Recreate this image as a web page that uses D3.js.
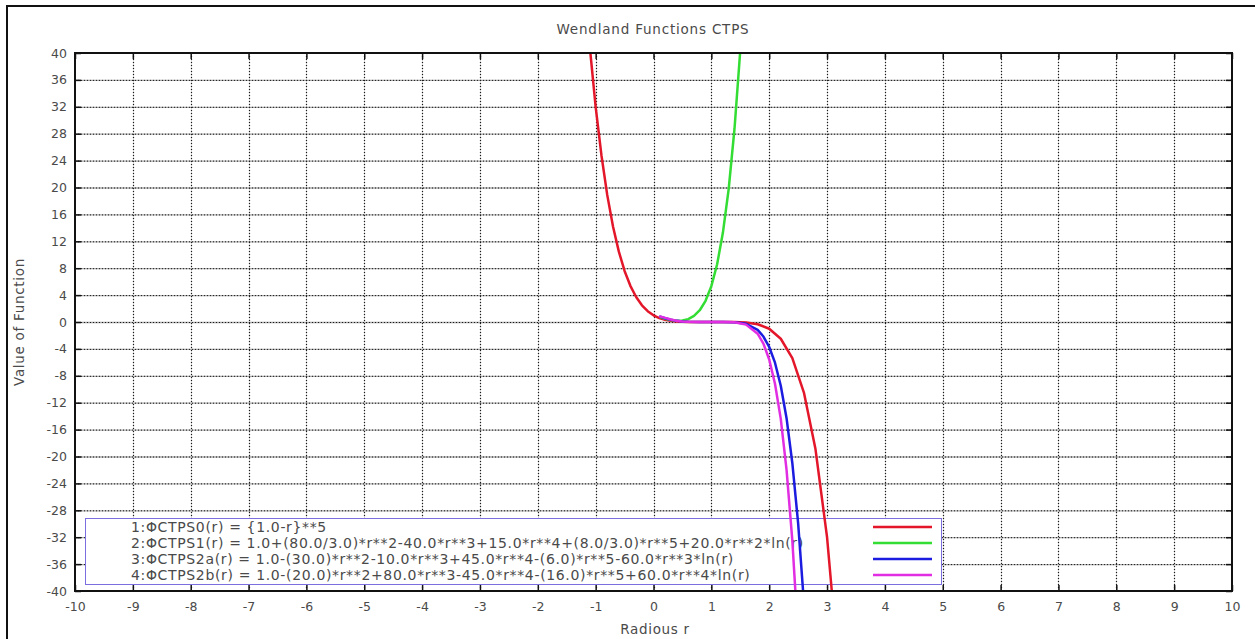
<!DOCTYPE html>
<html>
<head>
<meta charset="utf-8">
<script src="https://cdn.jsdelivr.net/npm/d3@7"></script>
<style>
  html, body { margin: 0; padding: 0; background: #fff; }
  svg { display: block; }
  text { font-family: "DejaVu Sans", Verdana, sans-serif; fill: #4a4a4a; }
</style>
</head>
<body>
<svg id="chart" width="1255" height="639"></svg>
<script>
// Axis tick labels
const xTicks = [-10, -9, -8, -7, -6, -5, -4, -3, -2, -1, 0, 1, 2, 3, 4, 5, 6, 7, 8, 9, 10];
const yTicks = [-40, -36, -32, -28, -24, -20, -16, -12, -8, -4, 0, 4, 8, 12, 16, 20, 24, 28, 32, 36, 40];

// Series: radius values and function values
const rCTPS0 = [-1.2, -1.1, -1.0, -0.9, -0.8, -0.7, -0.6, -0.5, -0.4, -0.3, -0.2, -0.1, 0.0, 0.1, 0.2, 0.3, 0.4, 0.5, 0.6, 0.8, 1.0, 1.2, 1.4, 1.6, 1.8, 2.0, 2.2, 2.4, 2.6, 2.8, 3.0, 3.2];
const vCTPS0 = [51.5, 40.8, 32.0, 24.8, 18.9, 14.2, 10.5, 7.59, 5.38, 3.71, 2.49, 1.61, 1.0, 0.59, 0.33, 0.17, 0.078, 0.031, 0.010, 0.0003, 0.0, -0.0003, -0.010, -0.078, -0.33, -1.0, -2.49, -5.38, -10.5, -18.9, -32.0, -51.5];

const rCTPS1 = [0.1, 0.2, 0.3, 0.4, 0.5, 0.6, 0.7, 0.8, 0.9, 1.0, 1.1, 1.2, 1.3, 1.4, 1.5, 1.6];
const vCTPS1 = [0.77, 0.48, 0.28, 0.19, 0.22, 0.43, 0.90, 1.75, 3.15, 5.33, 8.59, 13.3, 19.8, 28.7, 40.4, 55.8];

const rCTPS2a = [0.1, 0.2, 0.3, 0.4, 0.5, 0.6, 0.8, 1.0, 1.2, 1.4, 1.6, 1.8, 1.9, 2.0, 2.1, 2.2, 2.3, 2.4, 2.5, 2.6];
const vCTPS2a = [0.83, 0.56, 0.33, 0.17, 0.074, 0.025, 0.001, 0.0, -0.001, -0.04, -0.27, -1.18, -2.16, -3.71, -6.05, -9.49, -14.3, -21.0, -29.9, -41.7];

const rCTPS2b = [0.1, 0.2, 0.3, 0.4, 0.5, 0.6, 0.8, 1.0, 1.2, 1.4, 1.6, 1.8, 1.9, 2.0, 2.1, 2.2, 2.3, 2.4, 2.5];
const vCTPS2b = [0.86, 0.61, 0.37, 0.20, 0.088, 0.032, 0.001, 0.0, -0.001, -0.05, -0.39, -1.74, -3.22, -5.58, -9.18, -14.4, -22.0, -32.5, -46.8];

const seriesLabels = [
  "1:ΦCTPS0(r) = {1.0-r}**5",
  "2:ΦCTPS1(r) = 1.0+(80.0/3.0)*r**2-40.0*r**3+15.0*r**4+(8.0/3.0)*r**5+20.0*r**2*ln(r)",
  "3:ΦCTPS2a(r) = 1.0-(30.0)*r**2-10.0*r**3+45.0*r**4-(6.0)*r**5-60.0*r**3*ln(r)",
  "4:ΦCTPS2b(r) = 1.0-(20.0)*r**2+80.0*r**3-45.0*r**4-(16.0)*r**5+60.0*r**4*ln(r)"
];
const seriesColors = ["#e3162a", "#33dd33", "#1c1ce0", "#e22ee2"];

const titleText = "Wendland Functions CTPS";
const xLabelText = "Radious r";
const yLabelText = "Value of Function";

const series = [
  { r: rCTPS0, v: vCTPS0 },
  { r: rCTPS1, v: vCTPS1 },
  { r: rCTPS2a, v: vCTPS2a },
  { r: rCTPS2b, v: vCTPS2b }
].map((s, i) => ({
  label: seriesLabels[i],
  color: seriesColors[i],
  points: s.r.map((r, j) => ({ r, v: s.v[j] }))
}));

const svg = d3.select("#chart");
const plot = { left: 75, right: 1232, top: 53, bottom: 591 };

const x = d3.scaleLinear().domain([-10, 10]).range([plot.left, plot.right]);
const y = d3.scaleLinear().domain([-40, 40]).range([plot.bottom, plot.top]);

// Outer frame (left and top edges)
svg.append("path")
  .attr("d", `M7,639 L7,6 L1255,6`)
  .attr("fill", "none").attr("stroke", "#111").attr("stroke-width", 2);

// Title
svg.append("text").attr("x", 653).attr("y", 34)
  .attr("text-anchor", "middle").attr("font-size", 13.5)
  .attr("letter-spacing", 0.8).text(titleText);

// Grid lines: grey solid under black dots
const gridG = svg.append("g");
const innerX = xTicks.filter(t => t > -10 && t < 10);
const innerY = yTicks.filter(t => t > -40 && t < 40);
[["#a6a6a6", null], ["#1a1a1a", "1,2"]].forEach(([col, dash]) => {
  gridG.selectAll(null).data(innerY).enter().append("line")
    .attr("x1", plot.left).attr("x2", plot.right)
    .attr("y1", d => y(d) + 0.5).attr("y2", d => y(d) + 0.5)
    .attr("stroke", col).attr("stroke-width", dash ? 1 : 1.3)
    .attr("stroke-dasharray", dash);
  gridG.selectAll(null).data(innerX).enter().append("line")
    .attr("y1", plot.top).attr("y2", plot.bottom)
    .attr("x1", d => Math.round(x(d)) + 0.5).attr("x2", d => Math.round(x(d)) + 0.5)
    .attr("stroke", col).attr("stroke-width", dash ? 1.2 : 0.8)
    .attr("stroke-dasharray", dash)
    .attr("opacity", dash ? 1 : 0.6);
});

// Legend box (opaque, above grid)
const legend = { x0: 85, x1: 941, y0: 518, y1: 584 };
svg.append("rect")
  .attr("x", legend.x0 + 0.5).attr("y", legend.y0 + 0.5)
  .attr("width", legend.x1 - legend.x0).attr("height", legend.y1 - legend.y0)
  .attr("fill", "#fff").attr("stroke", "#7b6fe0").attr("stroke-width", 1);

const rowY = i => 527 + i * 16;
series.forEach((s, i) => {
  svg.append("text")
    .attr("x", 131).attr("y", rowY(i) + 5)
    .attr("font-size", 14).attr("letter-spacing", 0.65).attr("fill", "#444")
    .text(s.label);
  svg.append("line")
    .attr("x1", 873).attr("x2", 932)
    .attr("y1", rowY(i)).attr("y2", rowY(i))
    .attr("stroke", s.color).attr("stroke-width", 2.5);
});

// Curves, clipped to the plot area
svg.append("clipPath").attr("id", "plotClip")
  .append("rect")
  .attr("x", plot.left).attr("y", plot.top)
  .attr("width", plot.right - plot.left).attr("height", plot.bottom - plot.top);

const line = d3.line().x(d => x(d.r)).y(d => y(d.v)).curve(d3.curveLinear);
const curves = svg.append("g").attr("clip-path", "url(#plotClip)");
curves.selectAll("path").data(series).enter().append("path")
  .attr("d", d => line(d.points))
  .attr("fill", "none")
  .attr("stroke", d => d.color)
  .attr("stroke-width", 2.5)
  .attr("stroke-linejoin", "round");

// Axes: frame with inward ticks on all four sides
const tickLen = 6;
const fmt = d => String(d);
const axisG = svg.append("g");
axisG.append("g").attr("transform", `translate(0,${plot.bottom})`)
  .call(d3.axisBottom(x).tickValues(xTicks).tickSizeInner(-tickLen).tickSizeOuter(0).tickPadding(11).tickFormat(fmt));
axisG.append("g").attr("transform", `translate(0,${plot.top})`)
  .call(d3.axisTop(x).tickValues(xTicks).tickSizeInner(-tickLen).tickSizeOuter(0).tickFormat(""));
axisG.append("g").attr("transform", `translate(${plot.left},0)`)
  .call(d3.axisLeft(y).tickValues(yTicks).tickSizeInner(-tickLen).tickSizeOuter(0).tickPadding(8).tickFormat(fmt));
axisG.append("g").attr("transform", `translate(${plot.right},0)`)
  .call(d3.axisRight(y).tickValues(yTicks).tickSizeInner(-tickLen).tickSizeOuter(0).tickFormat(""));
axisG.selectAll(".domain").remove();
axisG.selectAll(".tick line").attr("stroke", "#111").attr("stroke-width", 1.5);
axisG.selectAll(".tick text")
  .attr("font-family", "DejaVu Sans, Verdana, sans-serif")
  .attr("font-size", 12.5).attr("fill", "#4a4a4a");

axisG.append("rect")
  .attr("x", plot.left).attr("y", plot.top)
  .attr("width", plot.right - plot.left).attr("height", plot.bottom - plot.top)
  .attr("fill", "none").attr("stroke", "#111").attr("stroke-width", 2);

// Axis titles
svg.append("text").attr("x", 655).attr("y", 634)
  .attr("text-anchor", "middle").attr("font-size", 13.5)
  .attr("letter-spacing", 0.7).text(xLabelText);
svg.append("text")
  .attr("transform", "translate(24,322) rotate(-90)")
  .attr("text-anchor", "middle").attr("font-size", 13.5)
  .attr("letter-spacing", 0.7).text(yLabelText);
</script>
</body>
</html>
